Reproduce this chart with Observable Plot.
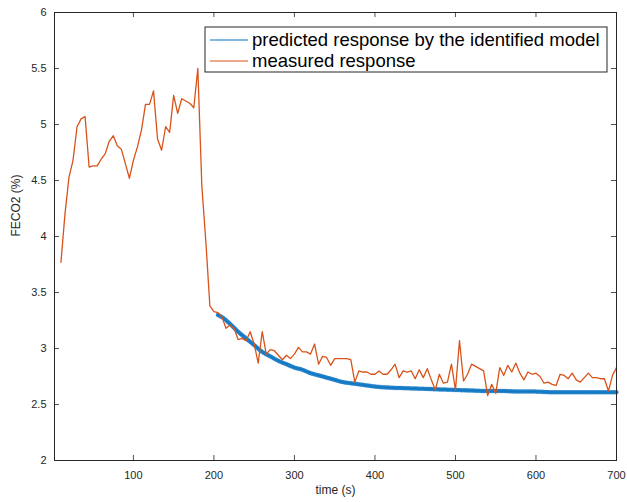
<!DOCTYPE html>
<html>
<head>
<meta charset="utf-8">
<script src="https://cdn.jsdelivr.net/npm/d3@7"></script>
<script src="https://cdn.jsdelivr.net/npm/@observablehq/plot@0.6"></script>
<style>
  html, body { margin: 0; padding: 0; background: #fff; }
  #chart svg { display: block; background: #fff; }
</style>
</head>
<body>
<div id="chart"></div>
<script>
// Measured end-tidal CO2 fraction, sampled every 5 s
const measuredTime = [10,15,20,25,30,35,40,45,50,55,60,65,70,75,80,85,90,95,100,105,110,115,120,125,130,135,140,145,150,155,160,165,170,175,180,185,190,195,200,205,210,215,220,225,230,235,240,245,250,255,260,265,270,275,280,285,290,295,300,305,310,315,320,325,330,335,340,345,350,355,360,365,370,375,380,385,390,395,400,405,410,415,420,425,430,435,440,445,450,455,460,465,470,475,480,485,490,495,500,505,510,515,520,525,530,535,540,545,550,555,560,565,570,575,580,585,590,595,600,605,610,615,620,625,630,635,640,645,650,655,660,665,670,675,680,685,690,695,700];
const measuredFeco2 = [3.77,4.20,4.53,4.68,4.98,5.05,5.07,4.62,4.63,4.63,4.69,4.74,4.85,4.90,4.81,4.78,4.65,4.52,4.68,4.80,4.95,5.18,5.18,5.30,4.87,4.77,4.98,4.93,5.26,5.10,5.23,5.21,5.19,5.15,5.50,4.45,3.95,3.38,3.33,3.32,3.28,3.18,3.21,3.18,3.08,3.09,3.07,3.15,3.04,2.87,3.15,2.95,2.99,2.98,2.94,2.90,2.94,2.91,2.95,3.01,2.97,2.97,2.95,3.04,2.86,2.93,2.92,2.85,2.91,2.91,2.91,2.91,2.90,2.70,2.80,2.79,2.79,2.77,2.77,2.80,2.77,2.77,2.81,2.86,2.74,2.80,2.79,2.80,2.73,2.81,2.74,2.82,2.72,2.63,2.77,2.69,2.70,2.86,2.63,3.07,2.71,2.77,2.86,2.84,2.82,2.80,2.58,2.68,2.60,2.83,2.76,2.85,2.79,2.87,2.78,2.72,2.79,2.77,2.78,2.75,2.69,2.70,2.68,2.67,2.77,2.76,2.73,2.78,2.72,2.70,2.74,2.78,2.74,2.74,2.73,2.73,2.62,2.76,2.83];

// Response predicted by the identified model
const modelTime = [205,210,220,230,240,250,260,270,280,290,300,310,320,330,340,350,360,370,380,390,400,420,440,460,480,500,520,540,560,580,600,620,640,660,680,700];
const modelFeco2 = [3.30,3.28,3.22,3.15,3.09,3.03,2.97,2.93,2.89,2.86,2.83,2.81,2.78,2.76,2.74,2.72,2.70,2.69,2.68,2.67,2.66,2.65,2.645,2.64,2.635,2.63,2.625,2.62,2.62,2.615,2.615,2.61,2.61,2.61,2.61,2.61];

const xTicks = [100,200,300,400,500,600,700];
const yTicks = [2,2.5,3,3.5,4,4.5,5,5.5,6];

const seriesNames = ["predicted response by the identified model", "measured response"];
const seriesColors = ["#0072BD", "#D95319"];

const measured = measuredTime.map((t, i) => ({t, v: measuredFeco2[i]}));
const model = modelTime.map((t, i) => ({t, v: modelFeco2[i]}));

const W = 627, H = 502;
const mL = 54, mR = 11, mT = 12, mB = 42;
const innerW = W - mL - mR, innerH = H - mT - mB;
const tickLen = 5;
const axisColor = "#262626";
const font = "'Liberation Sans', Arial, Helvetica, sans-serif";

const chart = Plot.plot({
  width: W,
  height: H,
  marginLeft: mL,
  marginRight: mR,
  marginTop: mT,
  marginBottom: mB,
  style: {fontFamily: font, fontSize: "11px", color: axisColor, background: "#fff"},
  x: {domain: [2, 700]},
  y: {domain: [2, 6]},
  marks: [
    // model response: band with a hatched marker texture
    Plot.line(model, {x: "t", y: "v", stroke: "#a6cff0", strokeWidth: 4.5, curve: "monotone-x"}),
    Plot.line(model, {x: "t", y: "v", stroke: "#2080c8", strokeWidth: 4, strokeDasharray: "1.2,1.6", curve: "monotone-x"}),
    Plot.line(model, {x: "t", y: "v", stroke: seriesColors[0], strokeWidth: 0.8, strokeOpacity: 0.8, curve: "monotone-x"}),
    // measured response
    Plot.line(measured, {x: "t", y: "v", stroke: seriesColors[1], strokeWidth: 1.3, strokeLinejoin: "round"}),
    // inward ticks on all four sides
    Plot.ruleX(xTicks, {x: d => d, insetTop: innerH - tickLen, stroke: axisColor, strokeWidth: 0.8}),
    Plot.ruleX(xTicks, {x: d => d, insetBottom: innerH - tickLen, stroke: axisColor, strokeWidth: 0.8}),
    Plot.ruleY(yTicks, {y: d => d, insetRight: innerW - tickLen, stroke: axisColor, strokeWidth: 0.8}),
    Plot.ruleY(yTicks, {y: d => d, insetLeft: innerW - tickLen, stroke: axisColor, strokeWidth: 0.8}),
    Plot.frame({stroke: axisColor, strokeWidth: 1}),
    Plot.axisX({ticks: xTicks, tickSize: 0, tickPadding: 11, label: null, tickFormat: d => String(d)}),
    Plot.axisY({ticks: yTicks, tickSize: 0, tickPadding: 8, label: null, tickFormat: d => String(d)}),
    Plot.text(["time (s)"], {frameAnchor: "bottom", dy: 33, fontSize: 12, fill: axisColor}),
    Plot.text(["FECO2 (%)"], {frameAnchor: "left", dx: -38, rotate: -90, fontSize: 12, fill: axisColor})
  ]
});

document.getElementById("chart").appendChild(chart);

// Legend box in the upper right of the axes
const svg = d3.select(chart);
const lg = svg.append("g").attr("font-family", font).attr("text-anchor", "start");
const lx = 205, ly = 27, lw = 402, lh = 45;
lg.append("rect").attr("x", lx).attr("y", ly).attr("width", lw).attr("height", lh)
  .attr("fill", "#fff").attr("stroke", axisColor).attr("stroke-width", 1);
seriesNames.forEach((name, i) => {
  const yy = ly + 13 + i * 21;
  lg.append("line").attr("x1", lx + 5).attr("x2", lx + 43).attr("y1", yy).attr("y2", yy)
    .attr("stroke", seriesColors[i]).attr("stroke-width", 1.2);
  lg.append("text").attr("x", lx + 47).attr("y", yy).attr("dy", "0.35em")
    .attr("font-size", 18.5).attr("fill", "#000").text(name);
});
</script>
</body>
</html>
